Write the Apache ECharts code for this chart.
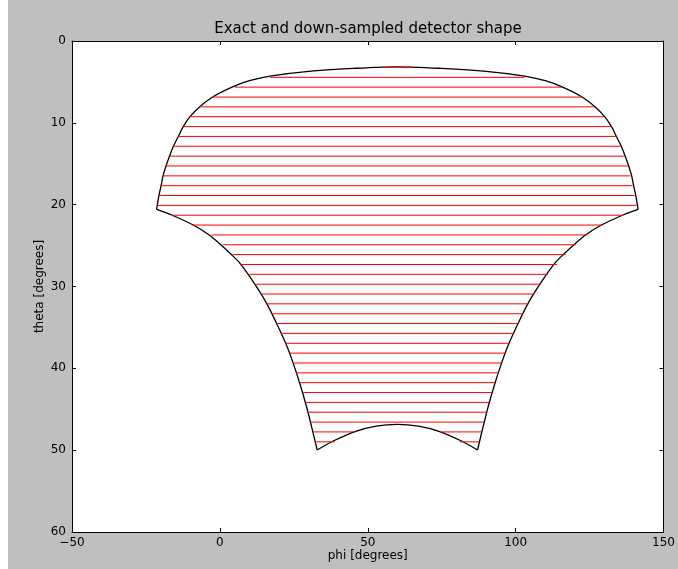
<!DOCTYPE html>
<html>
<head>
<meta charset="utf-8">
<script src="https://cdn.jsdelivr.net/npm/echarts@6/dist/echarts.min.js"></script>
<style>
  html, body { margin: 0; padding: 0; background: #ffffff; }
  #chart { position: absolute; left: 8px; top: 0px; width: 670px; height: 569px; }
</style>
</head>
<body>
<div id="chart"></div>
<script>
// ---- Data (phi, theta in degrees) ----
// Exact detector outline, in four pieces
const topEdge = [[-21.4,20.57],[-20.6,18.86],[-19.9,17.72],[-19.2,16.46],[-18.3,15.36],[-17.1,14.14],[-15.8,12.92],[-14.1,11.7],[-12.4,10.47],[-10.1,9.25],[-6.8,8.03],[-2.3,6.81],[4.5,5.58],[10,4.85],[16.9,4.28],[30,3.7],[45,3.35],[60,3.15],[75,3.35],[90,3.7],[103.1,4.28],[110,4.85],[115.5,5.58],[122.3,6.81],[126.8,8.03],[130.1,9.25],[132.4,10.47],[134.1,11.7],[135.8,12.92],[137.1,14.14],[138.3,15.36],[139.2,16.46],[139.9,17.72],[140.6,18.86],[141.4,20.57]];
const rightEdge = [[141.4,20.57],[136.3,21.26],[129.0,22.49],[123.6,23.71],[119.6,24.93],[116.4,26.0],[113.2,27.17],[108.75,29.41],[104.2,32.06],[100.3,34.91],[97.5,37.15],[95.2,39.39],[93.0,41.83],[90.7,44.69],[89.0,47.13],[87.1,49.98]];
const bottomArc = [[87.1,49.98],[81.7,48.88],[73.8,47.66],[67.1,47.05],[60,46.85],[52.9,47.05],[46.2,47.66],[38.3,48.88],[32.9,49.98]];
const leftEdge = [[32.9,49.98],[31.0,47.13],[29.3,44.69],[27.0,41.83],[24.8,39.39],[22.5,37.15],[19.7,34.91],[15.8,32.06],[11.25,29.41],[6.8,27.17],[3.6,26.0],[0.4,24.93],[-3.6,23.71],[-9.0,22.49],[-16.3,21.26],[-21.4,20.57]];

// Down-sampled shape: horizontal rows
const sampleTheta = [3.2, 4.44, 5.64, 6.85, 8.05, 9.25, 10.46, 11.66, 12.86, 14.07, 15.27, 16.48, 17.68, 18.88, 20.09, 21.29, 22.49, 23.70, 24.90, 26.10, 27.31, 28.51, 29.72, 30.92, 32.12, 33.33, 34.53, 35.73, 36.94, 38.14, 39.35, 40.55, 41.75, 42.96, 44.16, 45.36, 46.57, 47.77, 48.98];
const sampleLeft = [55, 17, 5, -2.3, -6.8, -10.1, -12.4, -14.1, -15.8, -17.3, -18.3, -19.2, -19.9, -20.6, -21.2, -16.3, -9.3, -2.8, 1.0, 4.3, 7.0, 9.6, 11.7, 13.8, 15.8, 17.5, 19.2, 20.7, 22.2, 23.5, 24.8, 25.8, 26.9, 27.9, 28.9, 29.8, 30.6, 31.5, 32.2];
const sampleRight = [65, 103, 115.5, 122.2, 126.7, 129.9, 132.3, 134.1, 135.7, 136.9, 138, 138.8, 139.5, 140.2, 140.9, 136.3, 129.2, 124.2, 120.3, 116.9, 114, 110.9, 108.4, 106.3, 104.3, 102.4, 100.8, 99.3, 97.8, 96.5, 95.2, 94.2, 93.1, 92.1, 91.1, 90.2, 89.4, 88.5, 87.8];
// Rows cut in two by the bottom arc
const splitTheta = [47.77, 48.98];
const splitInnerLeft = [45.6, 38.9];
const splitInnerRight = [74.4, 81.1];

// Axis ticks
const xTicks = [-50, 0, 50, 100, 150];
const yTicks = [0, 10, 20, 30, 40, 50, 60];

// ---- Build ----
const segs = [];
sampleTheta.forEach((t, i) => {
  const k = splitTheta.indexOf(t);
  if (k >= 0) {
    segs.push([[sampleLeft[i], t], [splitInnerLeft[k], t]]);
    segs.push([[splitInnerRight[k], t], [sampleRight[i], t]]);
  } else {
    segs.push([[sampleLeft[i], t], [sampleRight[i], t]]);
  }
});

const font = 'DejaVu Sans';
const fmt = v => (v < 0 ? '\u2212' + Math.abs(v) : String(v));

const xBase = { type: 'value', min: xTicks[0], max: xTicks[xTicks.length - 1], interval: xTicks[1] - xTicks[0],
  axisLine: { show: true, onZero: false, lineStyle: { color: '#000', width: 1 } },
  axisTick: { show: true, inside: true, length: 4, lineStyle: { color: '#000' } },
  splitLine: { show: false } };
const yBase = { type: 'value', inverse: true, min: yTicks[0], max: yTicks[yTicks.length - 1], interval: yTicks[1] - yTicks[0],
  axisLine: { show: true, onZero: false, lineStyle: { color: '#000', width: 1 } },
  axisTick: { show: true, inside: true, length: 4, lineStyle: { color: '#000' } },
  splitLine: { show: false } };

const chart = echarts.init(document.getElementById('chart'), null, { renderer: 'canvas' });
const edgeSeries = (data) => ({ type: 'line', data: data, showSymbol: false, symbol: 'none', smooth: 0.3,
  lineStyle: { color: '#000', width: 1.3 }, z: 2, silent: true });
const segSeries = (data) => ({ type: 'line', data: data, showSymbol: false, symbol: 'none',
  lineStyle: { color: '#ff0000', width: 1 }, itemStyle: { color: '#ff0000' }, z: 3, silent: true });

chart.setOption({
  animation: false,
  backgroundColor: '#bfbfbf',
  title: { text: 'Exact and down-sampled detector shape', left: 355, top: 17, textAlign: 'center',
    textStyle: { fontFamily: font, fontSize: 15, fontWeight: 'normal', color: '#000' } },
  grid: { left: 64, top: 41, width: 592, height: 491, show: true, backgroundColor: '#ffffff', borderWidth: 0 },
  xAxis: [
    Object.assign({}, xBase, { position: 'bottom', name: 'phi [degrees]', nameLocation: 'middle', nameGap: 18,
      nameMoveOverlap: false,
      nameTextStyle: { fontFamily: font, fontSize: 12, color: '#000' },
      axisLabel: { show: true, margin: 5, fontFamily: font, fontSize: 12, color: '#000', formatter: fmt } }),
    Object.assign({}, xBase, { position: 'top', axisLabel: { show: false } })
  ],
  yAxis: [
    Object.assign({}, yBase, { position: 'left', name: 'theta [degrees]', nameLocation: 'middle', nameGap: 26,
      nameMoveOverlap: false,
      nameTextStyle: { fontFamily: font, fontSize: 12, color: '#000' },
      axisLabel: { show: true, margin: 6, fontFamily: font, fontSize: 12, color: '#000', formatter: fmt } }),
    Object.assign({}, yBase, { position: 'right', axisLabel: { show: false } })
  ],
  series: [
    edgeSeries(topEdge),
    edgeSeries(rightEdge),
    edgeSeries(bottomArc),
    edgeSeries(leftEdge)
  ].concat(segs.map(segSeries))
});
</script>
</body>
</html>
